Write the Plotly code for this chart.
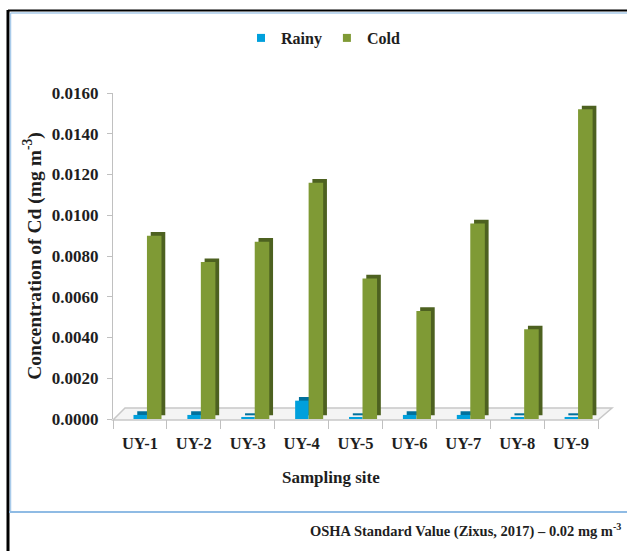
import plotly.graph_objects as go

sites = ["UY-1", "UY-2", "UY-3", "UY-4", "UY-5", "UY-6", "UY-7", "UY-8", "UY-9"]
rainy = [0.0002, 0.0002, 0.0001, 0.0009, 0.0001, 0.0002, 0.0002, 0.0001, 0.0001]
cold = [0.0090, 0.0077, 0.0087, 0.0116, 0.0069, 0.0053, 0.0096, 0.0044, 0.0152]

W, H = 627, 551
L, R, T, B = 113, 29, 93, 132
PW, PH = W - L - R, H - T - B

def px(x):
    return (x - L) / PW

def py(y):
    return (H - B - y) / PH

FONT = "Liberation Serif"
TXT = "#1e1e1e"
BLUE, BLUE_D = "#00a0dc", "#00709c"
GREEN, GREEN_D = "#7f9a35", "#4d6120"

fig = go.Figure()
# depth faces (drawn behind the front faces)
fig.add_trace(go.Bar(x=sites, y=rainy, base=0.00018, offset=-0.05, width=0.25,
                     marker=dict(color=BLUE_D, line_width=0), showlegend=False, hoverinfo="skip"))
fig.add_trace(go.Bar(x=sites, y=rainy, offset=-0.12, width=0.25, name="Rainy",
                     marker=dict(color=BLUE, line_width=0), showlegend=False))
fig.add_trace(go.Bar(x=sites, y=cold, base=0.00018, offset=0.20, width=0.27,
                     marker=dict(color=GREEN_D, line_width=0), showlegend=False, hoverinfo="skip"))
fig.add_trace(go.Bar(x=sites, y=cold, offset=0.13, width=0.27, name="Cold",
                     marker=dict(color=GREEN, line_width=0), showlegend=False))
# legend entries with small square keys
fig.add_trace(go.Scatter(x=[None], y=[None], mode="markers", name="Rainy",
                         marker=dict(symbol="square", size=8, color=BLUE)))
fig.add_trace(go.Scatter(x=[None], y=[None], mode="markers", name="Cold",
                         marker=dict(symbol="square", size=8, color=GREEN)))

shapes = [
    # floor
    dict(type="path", xref="paper", yref="paper", layer="below",
         path=f"M {px(113)} {py(420)} L {px(598)} {py(420)} L {px(612)} {py(408)} L {px(125)} {py(408)} Z",
         line=dict(color="#c8c8c8", width=1.5), fillcolor="#f4f4f4"),
    # frame
    dict(type="line", xref="paper", yref="paper", x0=px(8), x1=px(8), y0=py(10), y1=py(551),
         line=dict(color="black", width=3)),
    dict(type="line", xref="paper", yref="paper", x0=px(8), x1=px(627), y0=py(10.5), y1=py(10.5),
         line=dict(color="black", width=2)),
    dict(type="line", xref="paper", yref="paper", x0=px(10.5), x1=px(627), y0=py(13), y1=py(13),
         line=dict(color="#a9cbea", width=1.5)),
    dict(type="line", xref="paper", yref="paper", x0=px(10.5), x1=px(10.5), y0=py(13), y1=py(512),
         line=dict(color="#a9cbea", width=1.5)),
    dict(type="line", xref="paper", yref="paper", x0=px(9), x1=px(627), y0=py(512), y1=py(512),
         line=dict(color="#8fbbe4", width=2)),
]

fig.update_layout(
    width=W, height=H,
    margin=dict(l=L, r=R, t=T, b=B),
    paper_bgcolor="white", plot_bgcolor="white",
    barmode="overlay",
    font=dict(family=FONT, color=TXT),
    showlegend=True,
    legend=dict(orientation="h", x=px(323), xanchor="center", y=py(38), yanchor="middle",
                font=dict(family=FONT, size=16, color=TXT, weight="bold"),
                itemwidth=30, traceorder="normal", bgcolor="rgba(0,0,0,0)"),
    xaxis=dict(
        type="category", range=[-0.5, 8.5],
        showline=False, showgrid=False, zeroline=False,
        ticks="outside", tickson="boundaries", ticklen=9, tickcolor="#c0c0c0",
        ticklabelstandoff=12,
        tickfont=dict(family=FONT, size=16.5, color=TXT, weight="bold"),
    ),
    yaxis=dict(
        range=[0, 0.016], dtick=0.002, tickformat=".4f",
        showline=True, linecolor="#c0c0c0", linewidth=1,
        showgrid=False, zeroline=False,
        ticks="outside", ticklen=5, tickcolor="#c0c0c0",
        ticklabelstandoff=5,
        tickfont=dict(family=FONT, size=17, color=TXT, weight="bold"),
        title=dict(text="Concentration of Cd (mg m<sup>-3</sup>)", standoff=5,
                   font=dict(family=FONT, size=19.5, color=TXT, weight="bold")),
    ),
    shapes=shapes,
    annotations=[
        dict(xref="paper", yref="paper", x=px(331), y=py(477), xanchor="center", yanchor="middle",
             text="Sampling site", showarrow=False,
             font=dict(family=FONT, size=17, color=TXT, weight="bold")),
        dict(xref="paper", yref="paper", x=px(623), y=py(530), xanchor="right", yanchor="middle",
             text="OSHA Standard Value (Zixus, 2017) – 0.02 mg m<sup>-3</sup>", showarrow=False,
             font=dict(family=FONT, size=14.5, color=TXT, weight="bold")),
    ],
)

fig.write_html("out.html")
